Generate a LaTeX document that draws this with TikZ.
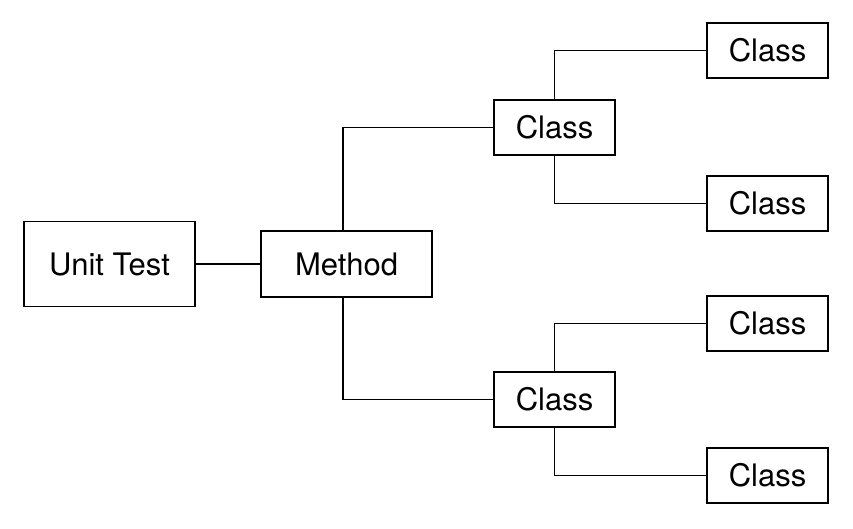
\documentclass[tikz,border=0pt]{standalone}
\usepackage{fontspec}
\setmainfont{TeX Gyre Heros}
\begin{document}
\begin{tikzpicture}[x=1pt,y=-1pt,
  box/.style={draw,line width=1.7pt,inner sep=0pt,font=\fontsize{31}{34}\selectfont},
  wire/.style={line width=1.7pt}]
\useasboundingbox (0,0) rectangle (853,528);
\node[box,minimum width=171pt,minimum height=85pt] (ut) at (109.5,264) {Unit Test};
\node[box,minimum width=171pt,minimum height=66pt] (m) at (346.5,264) {Method};
\node[box,minimum width=121pt,minimum height=55pt] (c1) at (554.5,127.5) {Class};
\node[box,minimum width=121pt,minimum height=55pt] (c2) at (554.5,399.5) {Class};
\node[box,minimum width=121pt,minimum height=55pt] (r1) at (767.5,50.5) {Class};
\node[box,minimum width=121pt,minimum height=55pt] (r2) at (767.5,203.5) {Class};
\node[box,minimum width=121pt,minimum height=55pt] (r3) at (767.5,323.5) {Class};
\node[box,minimum width=121pt,minimum height=55pt] (r4) at (767.5,475.5) {Class};
\draw[wire] (ut.east) -- (m.west);
\draw[wire] ([xshift=-3.5pt]m.north) |- (c1.west);
\draw[wire] ([xshift=-3.5pt]m.south) |- (c2.west);
\draw[wire] (c1.north) |- (r1.west);
\draw[wire] (c1.south) |- (r2.west);
\draw[wire] (c2.north) |- (r3.west);
\draw[wire] (c2.south) |- (r4.west);
\end{tikzpicture}
\end{document}
